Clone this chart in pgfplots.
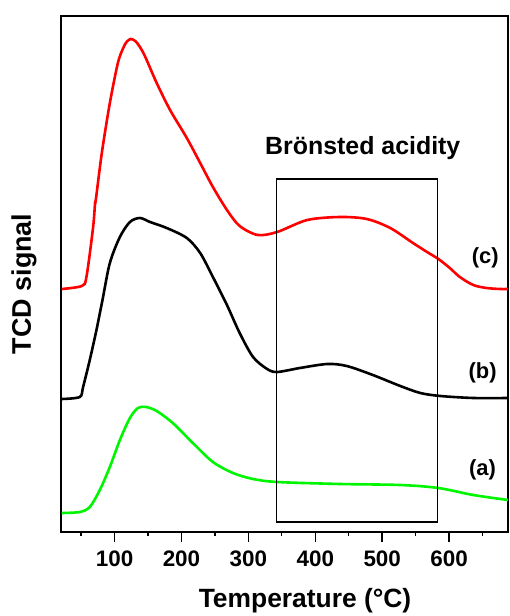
\documentclass[border=0pt]{standalone}
\usepackage{fontspec}
\setmainfont{Liberation Sans}
\usepackage{pgfplots}
\pgfplotsset{compat=1.18}

\definecolor{cgreen}{RGB}{0,245,0}

\begin{document}
\begin{tikzpicture}
\begin{axis}[
  scale only axis,
  width=447bp, height=516bp,
  xmin=20, xmax=688, ymin=0, ymax=516,
  axis line style={line width=1.8bp},
  xtick={100,200,...,600},
  minor xtick={50,150,...,650},
  ytick=\empty,
  minor ytick={22.35,44.7,...,510},
  xtick pos=bottom, ytick pos=left,
  tick align=outside,
  major tick length=10bp, minor tick length=4bp,
  major tick style={line width=1.5bp, black},
  minor x tick style={line width=1.2bp, black},
  minor y tick style={line width=1.2bp, black, xshift=4bp},
  /pgf/number format/assume math mode=true,
  xticklabel style={font=\fontsize{22.5}{24}\selectfont\bfseries, yshift=-5bp},
  clip=false,
]
% (c)
\addplot[red, line width=2.6bp, smooth, tension=0.5] coordinates {
(21,243) (51,246) (58,255) (68,305) (71,330) (72,332) (81,379) (93,429)
(105,469) (113,484) (118,490) (124,493) (131,491) (138,485) (146,475)
(163,449) (183,422) (208,394) (228,369) (247,345) (268,322) (287,306)
(314,297) (343,300) (388,312) (437,315) (477,313) (512,304) (546,289)
(567,280) (584,273) (601,264) (616,255) (636,247) (656,244) (676,243)
(688,243)};
% (b)
\addplot[black, line width=2.6bp, smooth, tension=0.5] coordinates {
(21,133) (48,135) (53,145) (63,172) (73,202) (82,232) (93,269) (108,295)
(123,310) (138,314) (153,310) (178,304) (208,294) (228,279) (247,255)
(268,227) (287,199) (307,175) (328,163) (343,160) (377,164) (418,168)
(447,166) (486,157) (527,146) (557,139) (587,136) (636,134) (688,134)};
% (a)
\addplot[cgreen, line width=2.6bp, smooth, tension=0.5] coordinates {
(21,19) (48,20) (63,25) (78,42) (93,65) (108,92) (123,114) (135,124)
(147,125) (163,121) (187,109) (217,89) (247,70) (277,59) (307,53)
(343,50) (437,48) (527,47) (584,44) (636,37) (688,32)};

\draw[black, line width=1.3bp] (axis cs:342,10) rectangle (axis cs:583,353);

\node[font=\fontsize{25}{27}\selectfont\bfseries] at (axis cs:471,384) {Brönsted acidity};
\node[font=\fontsize{22}{24}\selectfont\bfseries] at (axis cs:654,274) {(c)};
\node[font=\fontsize{22}{24}\selectfont\bfseries] at (axis cs:650,159) {(b)};
\node[font=\fontsize{22}{24}\selectfont\bfseries] at (axis cs:650,62) {(a)};

\node[font=\fontsize{26.5}{28}\selectfont\bfseries, anchor=base]
  at ([yshift=-75bp]rel axis cs:0.546,0) {Temperature (°C)};
\node[font=\fontsize{27}{29}\selectfont\bfseries, rotate=90, anchor=center]
  at ([xshift=-37bp]rel axis cs:0,0.481) {TCD signal};
\end{axis}
\path ([shift={(-61bp,-84bp)}]current axis.south west)
  rectangle ([shift={(1bp,16bp)}]current axis.north east);
\end{tikzpicture}
\end{document}
